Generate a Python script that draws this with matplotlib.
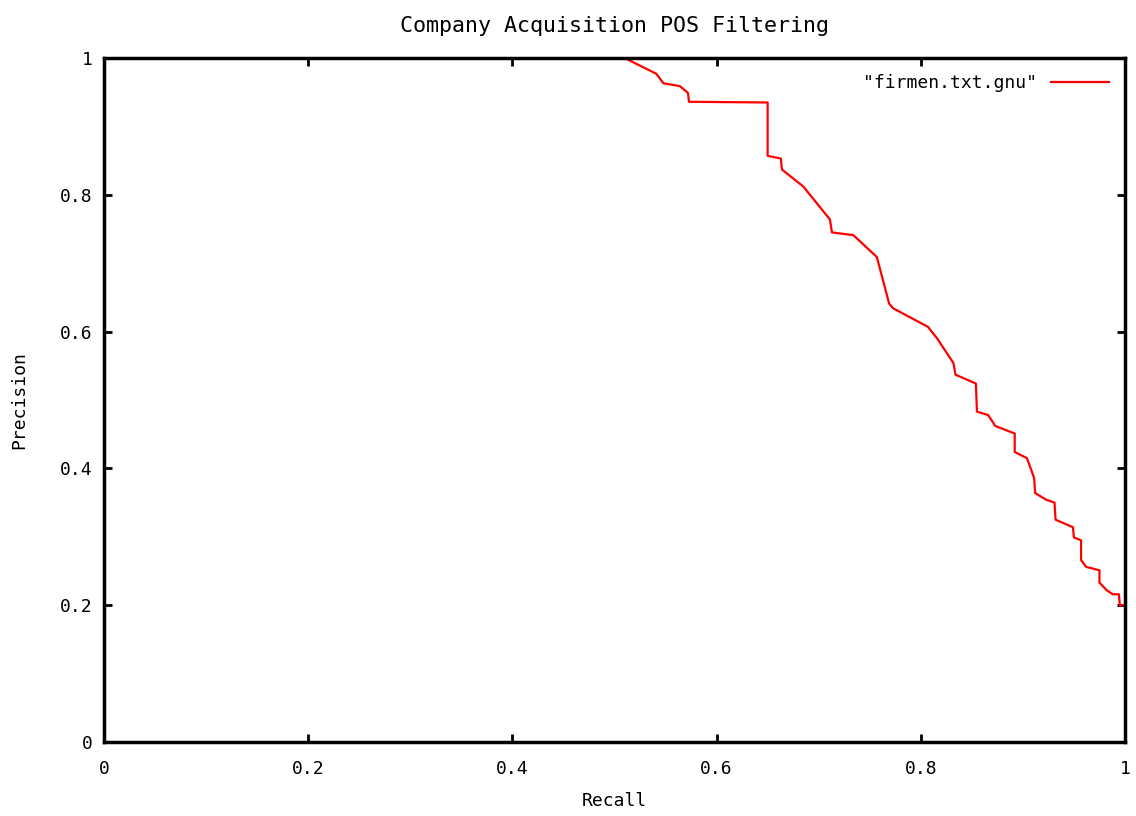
import matplotlib

matplotlib.use("Agg")
import matplotlib.pyplot as plt

# precision/recall points
recall = [0.510, 0.541, 0.548, 0.564, 0.572, 0.573, 0.650, 0.650, 0.663, 0.664,
          0.685, 0.711, 0.713, 0.734, 0.757, 0.769, 0.773, 0.807, 0.816, 0.832,
          0.834, 0.854, 0.855, 0.866, 0.873, 0.892, 0.892, 0.904, 0.911, 0.912,
          0.923, 0.931, 0.932, 0.949, 0.950, 0.957, 0.957, 0.962, 0.975, 0.975,
          0.982, 0.988, 0.994, 0.995, 1.000]
precision = [1.000, 0.977, 0.963, 0.959, 0.949, 0.936, 0.935, 0.857, 0.853, 0.837,
             0.812, 0.764, 0.745, 0.741, 0.709, 0.641, 0.634, 0.607, 0.590, 0.554,
             0.537, 0.524, 0.483, 0.478, 0.462, 0.451, 0.424, 0.415, 0.386, 0.364,
             0.354, 0.350, 0.325, 0.314, 0.299, 0.295, 0.266, 0.256, 0.251, 0.233,
             0.222, 0.216, 0.216, 0.200, 0.200]

ticks = [0, 0.2, 0.4, 0.6, 0.8, 1]
tick_labels = ["0", "0.2", "0.4", "0.6", "0.8", "1"]

plt.rcParams["font.family"] = "DejaVu Sans Mono"
plt.rcParams["font.size"] = 13

fig = plt.figure(figsize=(11.36, 8.16), dpi=100)
ax = fig.add_axes([0.0915, 0.0907, 0.8988, 0.8382])

ax.plot(recall, precision, color="red", linewidth=1.6, label='"firmen.txt.gnu"')

ax.set_xlim(0, 1)
ax.set_ylim(0, 1)
ax.set_xticks(ticks)
ax.set_xticklabels(tick_labels)
ax.set_yticks(ticks)
ax.set_yticklabels(tick_labels)
ax.tick_params(direction="in", length=6, width=2, top=True, right=True)
ax.tick_params(axis="x", pad=13)
ax.tick_params(axis="y", pad=8)
for spine in ax.spines.values():
    spine.set_linewidth(2.5)

ax.set_xlabel("Recall")
ax.xaxis.set_label_coords(0.5, -0.073)
ax.set_ylabel("Precision")
ax.yaxis.set_label_coords(-0.074, 0.5)
ax.set_title("Company Acquisition POS Filtering", pad=19)

leg = ax.legend(loc="upper right", frameon=False, markerfirst=False,
                handlelength=3.2, borderaxespad=0.5)

plt.savefig("out.png", dpi=100)
